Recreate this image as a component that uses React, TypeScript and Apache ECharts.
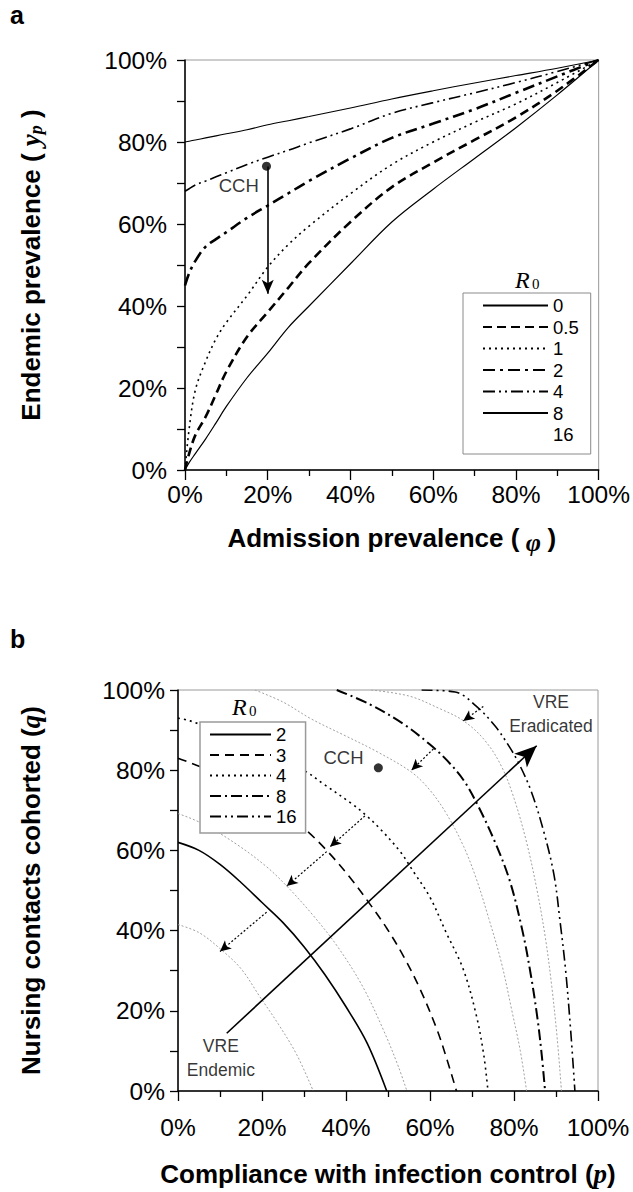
import React, { useEffect, useRef } from 'react';
import * as echarts from 'echarts';

const FONT = "'Liberation Sans', Arial, sans-serif";
const SERIF = "'Liberation Serif', 'DejaVu Serif', serif";

// ---------- Panel a data ----------
const admissionPrevalence = [0, 1, 2.5, 5, 7.5, 10, 15, 20, 25, 30, 40, 50, 60, 70, 80, 90, 100];
const endemicR0_0 = [0, 1.8, 4, 7.6, 11.5, 15.5, 22.5, 28.5, 34.8, 40, 50.3, 60.5, 68.5, 76, 83.5, 91.5, 100];
const endemicR0_05 = [0, 4, 8.5, 13, 18.5, 24, 32.5, 38.5, 44.5, 50.5, 60.5, 69, 75, 80.5, 86, 92.5, 100];
const endemicR0_1 = [0, 10, 19.5, 26.5, 32, 36, 42.5, 49.5, 55, 59.5, 67.4, 74.5, 80, 84.8, 89.3, 94.5, 100];
const endemicR0_2 = [45, 48, 51, 54.5, 56.3, 58, 61.5, 64.5, 67.5, 70.5, 76, 81, 84.5, 88, 92, 96, 100];
const endemicR0_4 = [68, 68.6, 69.5, 70.5, 71.5, 72.5, 74.5, 76.3, 78, 79.8, 83.2, 87, 89.6, 92, 94.5, 97.2, 100];
const endemicR0_8 = [80, 80.2, 80.5, 81, 81.5, 82, 83, 84.2, 85.2, 86.2, 88.3, 90.5, 92.5, 94.4, 96.2, 98, 100];
const legendNamesA = ['0', '0.5', '1', '2', '4', '8', '16'];
const cchPointA = [19.7, 74.1];
const cchArrowA = [[20, 74], [20, 43]];
const cchLabelA = [13, 69.5];

// ---------- Panel b data ----------
const contourR0_2 = [[0, 62], [5, 60], [10, 56.5], [15, 52], [20, 47], [25, 42], [30, 36], [35, 29], [40, 21], [45, 12], [49.7, 0]];
const contourR0_3 = [[0, 83], [5.2, 80.9], [10, 78.5], [15, 75.5], [20, 72.5], [25, 69.3], [30.2, 65.3], [35.4, 60], [40.9, 53.3], [45.7, 46.6], [49.7, 40.6], [53.7, 33.6], [57.6, 25.5], [61.6, 15.5], [64, 8], [66.3, 0]];
const contourR0_4 = [[0, 93], [2.9, 92.3], [10, 89.5], [20, 85], [30.2, 79.8], [34.6, 76.6], [41.7, 71.4], [44.5, 69], [48.1, 65.4], [52.9, 59.7], [56, 54.8], [60, 48.3], [63.9, 39.4], [67.9, 30.4], [71, 19], [72.8, 9], [73.8, 0]];
const contourR0_8 = [[37.8, 100], [45.7, 96.4], [53.7, 91.5], [60, 86.4], [64, 82.5], [68, 77.5], [71.5, 71], [75.5, 62], [79, 52.4], [82, 40], [84, 29], [85.6, 18], [86.6, 9], [87.4, 0]];
const contourR0_16 = [[58, 100], [66, 99.5], [71, 96], [75.5, 91], [78.5, 86.5], [81, 82], [84, 75], [87, 65], [89.5, 54], [91, 42], [92.3, 30], [93.5, 15], [94.5, 0]];
const shiftedR0_2 = [[0, 41.5], [5, 39.5], [10, 35.5], [15, 30.5], [19.5, 23.5], [24, 16.5], [28.3, 9], [32.2, 0]];
const shiftedR0_3 = [[0, 69.2], [6, 66.6], [14, 61.5], [21, 56], [25.9, 51.1], [32, 44], [38, 36], [44, 26], [49, 15], [52.5, 6], [54.5, 0]];
const shiftedR0_8 = [[18.3, 100], [25, 97], [31.7, 92.8], [40, 88.5], [47.6, 84.5], [55.6, 79.5], [60, 75], [64, 69], [68, 61], [71, 53], [74, 43], [77, 32], [79.5, 20], [81.5, 10], [83, 0]];
const shiftedR0_16 = [[46, 100], [55, 98.5], [62, 95.5], [68, 92.3], [73, 87.5], [77, 81], [80, 73], [83, 62], [85.5, 50], [87.5, 38], [89, 26], [90.3, 13], [91.3, 0]];
const legendNamesB = ['2', '3', '4', '8', '16'];
const shiftArrowsB = [
  [[21.1, 44.6], [10, 34.8]],
  [[35.4, 59.7], [25.9, 51.1]],
  [[44.5, 68.6], [36.2, 60.9]],
  [[60.8, 85.3], [55.6, 80]],
  [[72.7, 95.9], [67.9, 92.3]],
];
const mainArrowB = [[11.6, 14.4], [85.4, 86.1]];
const cchPointB = [47.7, 80.6];
const cchLabelB = [39.4, 83.1];
const eradicatedLabelB = [88.8, 94.1];
const endemicLabelB = [10.2, 8.3];

const percentTicks = (v: number) => (v % 20 === 0 ? v + '%' : '');

function xAxisCfg(name: string, labelMargin: number, nameGap: number, rich: any) {
  return {
    type: 'value', min: 0, max: 100, interval: 20,
    name, nameLocation: 'middle', nameGap,
    nameTextStyle: { fontFamily: FONT, fontWeight: 'bold', fontSize: 26, color: '#000', rich },
    axisLine: { show: true, lineStyle: { color: '#000', width: 1.5 } },
    axisTick: { show: true, length: 10, lineStyle: { color: '#000', width: 1.3 } },
    minorTick: { show: true, splitNumber: 2, length: 6, lineStyle: { color: '#000', width: 1.3 } },
    splitLine: { show: false },
    minorSplitLine: { show: false },
    axisLabel: { formatter: '{value}%', fontFamily: FONT, fontSize: 24.5, color: '#000', margin: labelMargin },
  };
}
function yAxisCfg(name: string, labelMargin: number, nameGap: number, rich: any) {
  return {
    type: 'value', min: 0, max: 100, interval: 10,
    name, nameLocation: 'middle', nameGap,
    nameTextStyle: { fontFamily: FONT, fontWeight: 'bold', fontSize: 26, color: '#000', rich },
    axisLine: { show: true, lineStyle: { color: '#000', width: 1.5 } },
    axisTick: { show: true, length: 8, lineStyle: { color: '#000', width: 1.3 } },
    splitLine: { show: false },
    axisLabel: { formatter: percentTicks, fontFamily: FONT, fontSize: 24.5, color: '#000', margin: labelMargin },
  };
}
const richIt = {
  iy: { fontFamily: SERIF, fontStyle: 'italic', fontWeight: 'bold', fontSize: 27, color: '#000' },
  ip: { fontFamily: SERIF, fontStyle: 'italic', fontWeight: 'bold', fontSize: 18, color: '#000', padding: [10, 0, 0, 0] },
  ph: { fontFamily: SERIF, fontStyle: 'italic', fontSize: 26, color: '#000', padding: [8, 0, 0, 0] },
};

function lineSeries(name: string, data: any[], style: any, color = '#000') {
  return {
    type: 'line', name, data, showSymbol: false, symbol: 'none', smooth: 0.35,
    color, lineStyle: { color, ...style }, silent: true, z: 3,
  };
}
function textSeries(name: string, at: number[], text: string, fontSize: number, extra: any = {}) {
  return {
    type: 'scatter', name, data: [at], symbol: 'circle', symbolSize: 1,
    itemStyle: { color: 'rgba(0,0,0,0)' }, silent: true, z: 6,
    label: { show: true, position: 'inside', formatter: text, fontFamily: FONT, fontSize, color: '#000', lineHeight: 24, align: 'center' },
    ...extra,
  };
}

const legendIconStyle = { opacity: 0, borderWidth: 0, color: 'rgba(0,0,0,0)' };

function buildOptionA() {
  const pts = (ys: number[]) => admissionPrevalence.map((x, i) => [x, ys[i]]);
  return {
    animation: false,
    grid: { left: 185, top: 60, width: 414, height: 410, show: true, borderColor: '#9a9a9a', borderWidth: 1 },
    xAxis: xAxisCfg('Admission prevalence ({ph| φ })', 12, 51, richIt),
    yAxis: yAxisCfg('Endemic prevalence ( {iy|y}{ip|p} )', 18, 140, richIt),
    legend: {
      data: legendNamesA, orient: 'vertical', left: 463, top: 293,
      itemWidth: 65, itemHeight: 14, itemGap: 2.5, padding: [3, 12, 10, 19],
      borderColor: '#8a8a8a', borderWidth: 1, backgroundColor: '#fff', selectedMode: false,
      itemStyle: legendIconStyle,
      textStyle: { fontFamily: FONT, fontSize: 18.5, color: '#000' },
    },
    graphic: [
      { type: 'text', left: 10, top: 2, style: { text: 'a', font: `bold 25px ${FONT}`, fill: '#000' } },
      { type: 'text', left: 515, top: 268, style: { text: 'R', font: `italic 24px ${SERIF}`, fill: '#000' } },
      { type: 'text', left: 532, top: 276, style: { text: '0', font: `15px ${SERIF}`, fill: '#000' } },
    ],
    series: [
      lineSeries('0', pts(endemicR0_0), { type: 'solid', width: 1.2 }),
      lineSeries('0.5', pts(endemicR0_05), { type: [9, 5], width: 2.6 }),
      lineSeries('1', pts(endemicR0_1), { type: [2, 4], width: 1.6 }),
      lineSeries('2', pts(endemicR0_2), { type: [12, 5, 3, 5], width: 2.6 }),
      lineSeries('4', pts(endemicR0_4), { type: [12, 4, 2, 4, 2, 4], width: 1.6 }),
      lineSeries('8', pts(endemicR0_8), { type: 'solid', width: 1.1 }),
      lineSeries('16', [], { type: 'solid', width: 1 }, 'rgba(0,0,0,0)'),
      {
        type: 'scatter', name: 'CCH a', data: [cchPointA], symbol: 'circle', symbolSize: 9,
        itemStyle: { color: '#000' }, silent: true, z: 5,
        markLine: {
          silent: true, symbol: ['none', 'arrow'], symbolSize: [9, 14], animation: false,
          lineStyle: { color: '#000', type: 'solid', width: 1.6 }, label: { show: false },
          data: [[{ coord: cchArrowA[0] }, { coord: cchArrowA[1] }]],
        },
      },
      textSeries('CCH label a', cchLabelA, 'CCH', 18.5),
    ],
  };
}

function buildOptionB() {
  const gray = '#a0a0a0';
  return {
    animation: false,
    grid: { left: 178, top: 94, width: 420, height: 410, show: true, borderColor: '#9a9a9a', borderWidth: 1 },
    xAxis: xAxisCfg('Compliance with infection control ({iy|p})', 24, 69, richIt),
    yAxis: yAxisCfg('Nursing contacts cohorted ({iy|q})', 13, 134, richIt),
    legend: {
      data: legendNamesB, orient: 'vertical', left: 200, top: 126,
      itemWidth: 61, itemHeight: 14, itemGap: 1.5, padding: [3, 9, 7, 9],
      borderColor: '#9a9a9a', borderWidth: 1.5, backgroundColor: '#fff', selectedMode: false,
      itemStyle: legendIconStyle,
      textStyle: { fontFamily: FONT, fontSize: 18.5, color: '#000' },
    },
    graphic: [
      { type: 'text', left: 10, top: 30, style: { text: 'b', font: `bold 25px ${FONT}`, fill: '#000' } },
      { type: 'text', left: 232, top: 99, style: { text: 'R', font: `italic 24px ${SERIF}`, fill: '#000' } },
      { type: 'text', left: 249, top: 107, style: { text: '0', font: `15px ${SERIF}`, fill: '#000' } },
    ],
    series: [
      lineSeries('shifted 2', shiftedR0_2, { type: [2, 2], width: 1 }, gray),
      lineSeries('shifted 3', shiftedR0_3, { type: [2, 2], width: 1 }, gray),
      lineSeries('shifted 8', shiftedR0_8, { type: [2, 2], width: 1 }, gray),
      lineSeries('shifted 16', shiftedR0_16, { type: [2, 2], width: 1 }, gray),
      lineSeries('2', contourR0_2, { type: 'solid', width: 1.6 }),
      lineSeries('3', contourR0_3, { type: [9, 6], width: 1.6 }),
      lineSeries('4', contourR0_4, { type: [2, 4], width: 1.6 }),
      lineSeries('8', contourR0_8, { type: [11, 4, 2, 4], width: 2 }),
      lineSeries('16', contourR0_16, { type: [11, 4, 2, 4, 2, 4], width: 1.6 }),
      {
        type: 'scatter', name: 'CCH b', data: [cchPointB], symbol: 'circle', symbolSize: 9,
        itemStyle: { color: '#000' }, silent: true, z: 5,
        markLine: {
          silent: true, symbol: ['none', 'arrow'], symbolSize: [8, 11], animation: false,
          lineStyle: { color: '#000', type: [2, 2], width: 1.2 }, label: { show: false },
          data: shiftArrowsB.map((a) => [{ coord: a[0] }, { coord: a[1] }]),
        },
      },
      textSeries('CCH label b', cchLabelB, 'CCH', 18.5, {
        markLine: {
          silent: true, symbol: ['none', 'arrow'], symbolSize: [14, 22], animation: false,
          lineStyle: { color: '#000', type: 'solid', width: 1.6 }, label: { show: false },
          data: [[{ coord: mainArrowB[0] }, { coord: mainArrowB[1] }]],
        },
      }),
      textSeries('eradicated', eradicatedLabelB, 'VRE\nEradicated', 17.5),
      textSeries('endemic', endemicLabelB, 'VRE\nEndemic', 17.5),
    ],
  };
}

function Chart({ top, height, build }: { top: number; height: number; build: () => any }) {
  const ref = useRef<HTMLDivElement>(null);
  useEffect(() => {
    if (!ref.current) return;
    const chart = echarts.init(ref.current, undefined, { renderer: 'svg' });
    chart.setOption(build());
    return () => chart.dispose();
  }, [build]);
  return <div ref={ref} style={{ position: 'absolute', left: 0, top, width: 633, height }} />;
}

export default function App() {
  return (
    <div style={{ position: 'absolute', left: 0, top: 0, width: 633, height: 1192, background: '#fff' }}>
      <Chart top={0} height={596} build={buildOptionA} />
      <Chart top={596} height={596} build={buildOptionB} />
    </div>
  );
}
